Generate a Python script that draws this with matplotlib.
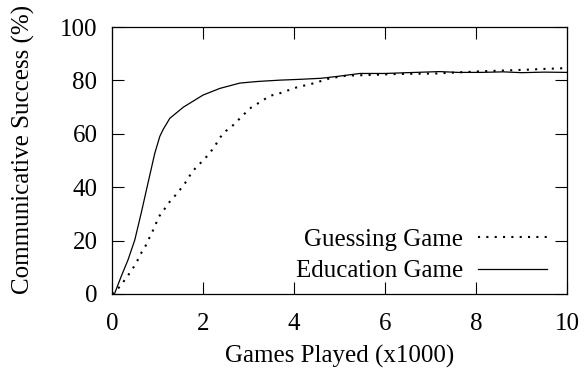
import matplotlib
matplotlib.use('Agg')
import matplotlib.pyplot as plt

plt.rcParams['font.family'] = ['Liberation Serif', 'DejaVu Serif']
plt.rcParams['font.size'] = 18

# 読み取った値 (x: 試合数 x1000, y: 成功率 %)
edu_x = [0.0, 0.06, 0.2, 0.35, 0.5, 0.64, 0.79, 0.94, 1.05, 1.12, 1.27, 1.57, 2.0,
         2.37, 2.81, 3.2, 3.69, 4.13, 4.6, 5.0, 5.45, 6.0, 6.5, 7.2, 7.6, 8.1, 8.6,
         9.0, 9.5, 10.0]
edu_y = [0.0, 0.3, 6.5, 12.7, 20.2, 30.2, 41.5, 52.7, 59.0, 61.5, 65.8, 70.0, 74.5,
         77.0, 79.0, 79.6, 80.1, 80.4, 80.8, 81.6, 82.6, 82.6, 82.9, 83.3, 83.0, 83.0,
         83.2, 82.9, 83.1, 83.0]

guess_x = [0.0, 0.17, 0.29, 0.42, 0.53, 0.63, 0.74, 0.84, 0.94, 1.02, 1.14, 1.27,
           1.40, 1.52, 1.63, 1.74, 1.85, 1.99, 2.13, 2.26, 2.38, 2.5, 2.63, 3.03,
           3.47, 3.69, 4.06, 4.43, 4.79, 5.16, 5.6, 6.25, 7.13, 7.6, 8.1, 8.6, 9.1,
           9.5, 10.0]
guess_y = [0.0, 2.7, 5.5, 8.6, 11.5, 15.0, 18.1, 21.7, 25.2, 28.7, 31.5, 34.6,
           37.1, 39.6, 42.1, 45.2, 47.5, 49.8, 52.4, 55.4, 58.7, 61.0, 62.7, 69.5,
           74.2, 75.2, 77.4, 78.9, 80.8, 81.8, 82.0, 82.4, 82.6, 83.0, 83.4, 83.7,
           84.0, 84.3, 84.6]

fig = plt.figure(figsize=(5.84, 3.73), dpi=100)
ax = fig.add_axes([0.1918, 0.2118, 0.7791, 0.7158])

ax.plot(guess_x, guess_y, color='black', linestyle=(0, (1, 3)), linewidth=1.5,
        label='Guessing Game')
ax.plot(edu_x, edu_y, color='black', linestyle='-', linewidth=0.9,
        label='Education Game')

ax.set_xlim(0, 10)
ax.set_ylim(0, 100)
ax.set_xticks([0, 2, 4, 6, 8, 10])
ax.set_yticks([0, 20, 40, 60, 80, 100])
ax.tick_params(direction='in', length=8.5, width=0.8, top=True, right=True)
ax.tick_params(axis='x', pad=14)
ax.tick_params(axis='y', pad=10.5)
for s in ax.spines.values():
    s.set_linewidth(0.9)

ax.set_xlabel('Games Played (x1000)', labelpad=7)
ax.set_ylabel('Communicative Success (%)')
ax.yaxis.set_label_coords(-0.169, 0.543)

#凡例は右下、線見本を文字の右に
ax.legend(loc='lower right', bbox_to_anchor=(0.978, 0.006), borderaxespad=0,
          frameon=False, markerfirst=False, handlelength=2.76,
          handletextpad=0.6, labelspacing=0.35, fontsize=18)

fig.savefig('out.png', dpi=100)
